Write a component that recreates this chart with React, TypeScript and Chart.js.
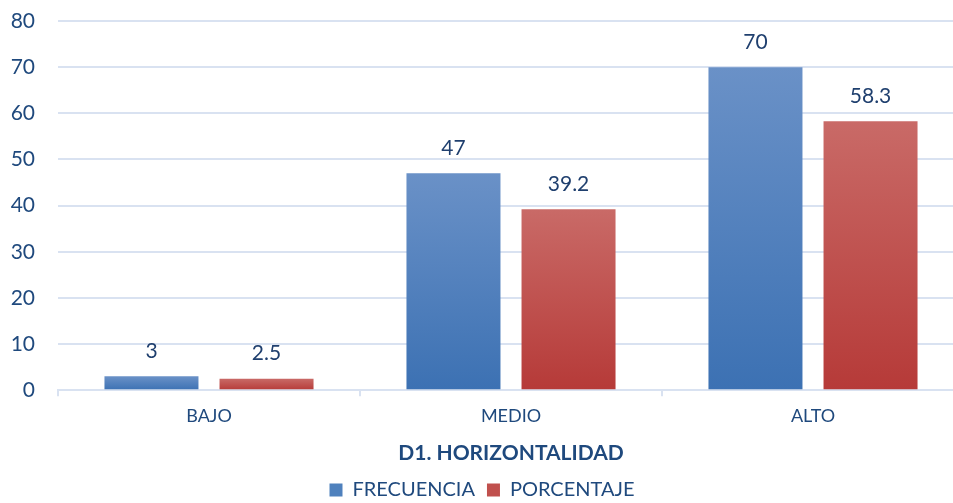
import React, { useEffect, useRef } from 'react';
import { Chart, registerables } from 'chart.js';

Chart.register(...registerables);

const categories = ['BAJO', 'MEDIO', 'ALTO'];
const frecuencia = [3, 47, 70];
const porcentaje = [2.5, 39.2, 58.3];
const seriesNames = ['FRECUENCIA', 'PORCENTAJE'];
const yMin = 0;
const yMax = 80;
const yStep = 10;
const xTitle = 'D1. HORIZONTALIDAD';

const TEXT = '#1F497D';
const FONT = 'Lato, "Open Sans", sans-serif';
const GRID = '#D9E2F1';

function gradientFill(top: string, bottom: string, solid: string) {
  return (ctx: any) => {
    const chart = ctx.chart;
    if (ctx.type !== 'data' || !chart.chartArea || !chart.scales.y) return solid;
    const y = chart.scales.y;
    const y0 = y.getPixelForValue(0);
    const y1 = y.getPixelForValue(ctx.raw);
    if (!isFinite(y0) || !isFinite(y1) || y0 === y1) return solid;
    const g = chart.ctx.createLinearGradient(0, y1, 0, y0);
    g.addColorStop(0, top);
    g.addColorStop(1, bottom);
    return g;
  };
}

const valueLabels = {
  id: 'valueLabels',
  afterDatasetsDraw(chart: any) {
    const { ctx } = chart;
    ctx.save();
    ctx.font = `21px ${FONT}`;
    ctx.fillStyle = '#1F3F6E';
    ctx.textAlign = 'center';
    ctx.textBaseline = 'middle';
    chart.data.datasets.forEach((ds: any, i: number) => {
      const meta = chart.getDatasetMeta(i);
      meta.data.forEach((bar: any, j: number) => {
        ctx.fillText(String(ds.data[j]), bar.x, bar.y - 25);
      });
    });
    ctx.restore();
  },
};

export default function App() {
  const canvasRef = useRef<HTMLCanvasElement | null>(null);

  useEffect(() => {
    const canvas = canvasRef.current;
    if (!canvas) return;
    const solidColors = ['#4F81BD', '#C0504D'];
    const chart = new Chart(canvas, {
      type: 'bar',
      data: {
        labels: categories,
        datasets: [
          {
            label: seriesNames[0],
            data: frecuencia,
            backgroundColor: gradientFill('#6A91C7', '#3C71B3', solidColors[0]),
            barPercentage: 0.817,
            categoryPercentage: 0.762,
          },
          {
            label: seriesNames[1],
            data: porcentaje,
            backgroundColor: gradientFill('#C96A67', '#B63A38', solidColors[1]),
            barPercentage: 0.817,
            categoryPercentage: 0.762,
          },
        ],
      },
      options: {
        animation: false,
        responsive: true,
        maintainAspectRatio: false,
        layout: { padding: { top: 21, left: 0, right: 14, bottom: -7 } },
        plugins: {
          tooltip: { enabled: false },
          legend: {
            position: 'bottom',
            labels: {
              boxWidth: 13,
              boxHeight: 13,
              padding: 12,
              color: TEXT,
              font: { family: FONT, size: 20 },
              generateLabels: (c: any) =>
                c.data.datasets.map((ds: any, i: number) => ({
                  text: ds.label,
                  fillStyle: solidColors[i],
                  strokeStyle: solidColors[i],
                  lineWidth: 0,
                  fontColor: TEXT,
                  hidden: false,
                  datasetIndex: i,
                })),
            },
          },
        },
        scales: {
          x: {
            grid: {
              display: true,
              drawOnChartArea: false,
              drawTicks: true,
              tickLength: 6,
              color: GRID,
              lineWidth: 2,
              offset: true,
            },
            border: { display: true, color: GRID, width: 2 },
            ticks: {
              color: TEXT,
              padding: 9,
              font: { family: FONT, size: 18 },
            },
            title: {
              display: true,
              text: xTitle,
              color: TEXT,
              font: { family: FONT, size: 21, weight: 'bold' },
              padding: { top: 5, bottom: 2 },
            },
          },
          y: {
            min: yMin,
            max: yMax,
            afterFit: (scale: any) => {
              scale.width = 58;
              scale.paddingTop = 0;
              scale.paddingBottom = 0;
            },
            ticks: {
              stepSize: yStep,
              color: TEXT,
              padding: 23,
              font: { family: FONT, size: 21 },
            },
            grid: { color: GRID, lineWidth: 2, drawTicks: false },
            border: { display: false },
          },
        },
      },
      plugins: [valueLabels],
    });
    return () => chart.destroy();
  }, []);

  return (
    <div
      style={{
        position: 'fixed',
        left: 0,
        top: 0,
        width: 953,
        height: 503,
        overflow: 'hidden',
        background: '#ffffff',
      }}
    >
      <div style={{ position: 'relative', width: 978, height: 503 }}>
        <canvas ref={canvasRef} />
      </div>
    </div>
  );
}
